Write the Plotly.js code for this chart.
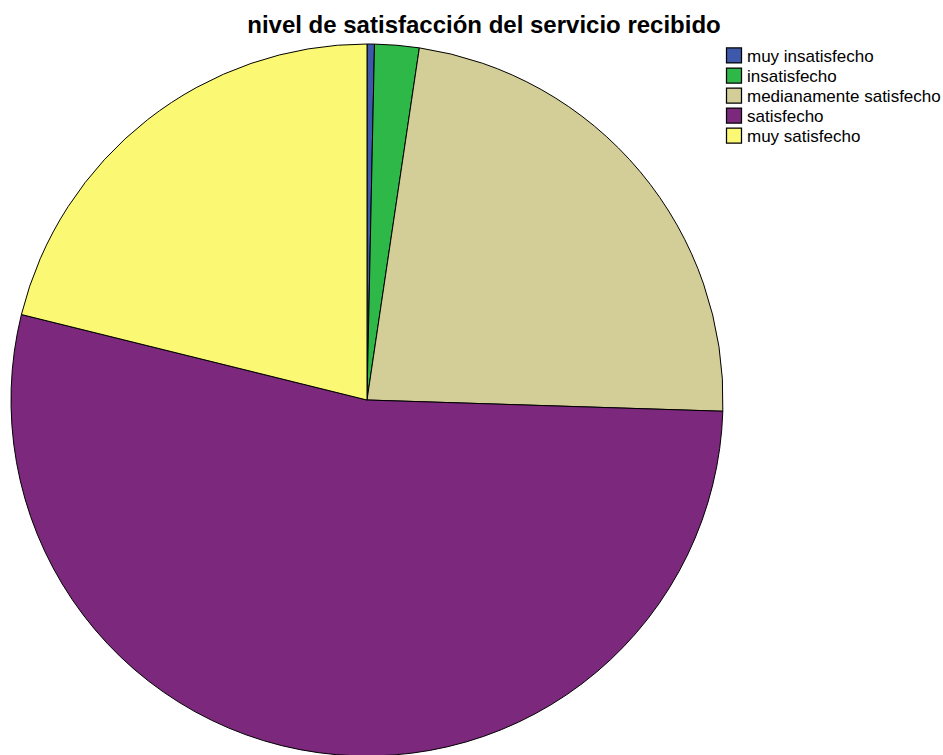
<!DOCTYPE html>
<html>
<head>
<meta charset="utf-8">
<script src="https://cdn.plot.ly/plotly-3.0.1.min.js"></script>
<style>
html,body{margin:0;padding:0;overflow:hidden;background:#fff;}
#chart{width:943px;height:760px;}
</style>
</head>
<body>
<div id="chart"></div>
<script>
const categories = ["muy insatisfecho", "insatisfecho", "medianamente satisfecho", "satisfecho", "muy satisfecho"];
const counts = [1, 6, 69, 159, 63];
const colors = ["#3E58AC", "#2EB848", "#D3CE97", "#7C287D", "#FBF873"];
const titleText = "nivel de satisfacción del servicio recibido";

const W = 943, H = 760;
const data = [{
  type: "pie",
  labels: categories,
  values: counts,
  sort: false,
  direction: "clockwise",
  rotation: 0,
  textinfo: "none",
  hoverinfo: "label+value+percent",
  marker: { colors: colors, line: { color: "#000000", width: 1 } },
  domain: { x: [11 / W, 723 / W], y: [1 - 756 / H, 1 - 44 / H] }
}];
const layout = {
  width: W, height: H,
  margin: { l: 0, r: 0, t: 0, b: 0, autoexpand: false },
  paper_bgcolor: "#ffffff",
  font: { family: "Liberation Sans, Arial, sans-serif", color: "#000000" },
  title: {
    text: "<b>" + titleText + "</b>",
    font: { family: "Liberation Sans, Arial, sans-serif", size: 24, color: "#000000" },
    xref: "paper", yref: "container",
    x: 484 / W, xanchor: "center",
    y: 1 - 25 / H, yanchor: "middle"
  },
  showlegend: true,
  legend: {
    x: 640 / W, xanchor: "left",
    y: 1 - 44 / H, yanchor: "top",
    bgcolor: "rgba(0,0,0,0)",
    font: { size: 17, color: "#000000" },
    itemwidth: 30,
    tracegroupgap: 0
  }
};

function parseT(s) {
  const m = /translate\(\s*([-\d.e]+)[ ,]+([-\d.e]+)/.exec(s || "");
  return m ? [parseFloat(m[1]), parseFloat(m[2])] : [0, 0];
}

function tidyLegend() {
  const leg = document.querySelector(".legend");
  const items = Array.from(document.querySelectorAll(".legend .traces"));
  if (!leg || !items.length) return;
  const base = parseT(items[0].getAttribute("transform"));
  items.forEach((it, i) => it.setAttribute("transform", `translate(${base[0]},${base[1] + 20 * i})`));
  items.forEach(it => {
    it.querySelectorAll("path.legendpie").forEach(p => {
      const t = p.getAttribute("transform") || "";
      p.setAttribute("transform", t + " scale(1.25)");
    });
  });
  // move whole legend so first text starts at x=747 and first swatch centre is at y=55.5
  const lt = parseT(leg.getAttribute("transform"));
  const txt = items[0].querySelector("text.legendtext");
  const sym = items[0].querySelector("path.legendpie");
  const tr = txt.getBoundingClientRect();
  const sr = sym.getBoundingClientRect();
  const dx = 747 - tr.left;
  const dy = 55.5 - (sr.top + sr.height / 2);
  leg.setAttribute("transform", `translate(${lt[0] + dx},${lt[1] + dy})`);
  // swatch centre x to 734
  const sr2 = sym.getBoundingClientRect();
  const sdx = 734 - (sr2.left + sr2.width / 2);
  items.forEach(it => {
    const pts = it.querySelector(".legendpoints");
    if (pts) pts.setAttribute("transform", `translate(${sdx},0)`);
  });
}

Plotly.newPlot("chart", data, layout, { displayModeBar: false, staticPlot: true }).then(tidyLegend);
</script>
</body>
</html>
